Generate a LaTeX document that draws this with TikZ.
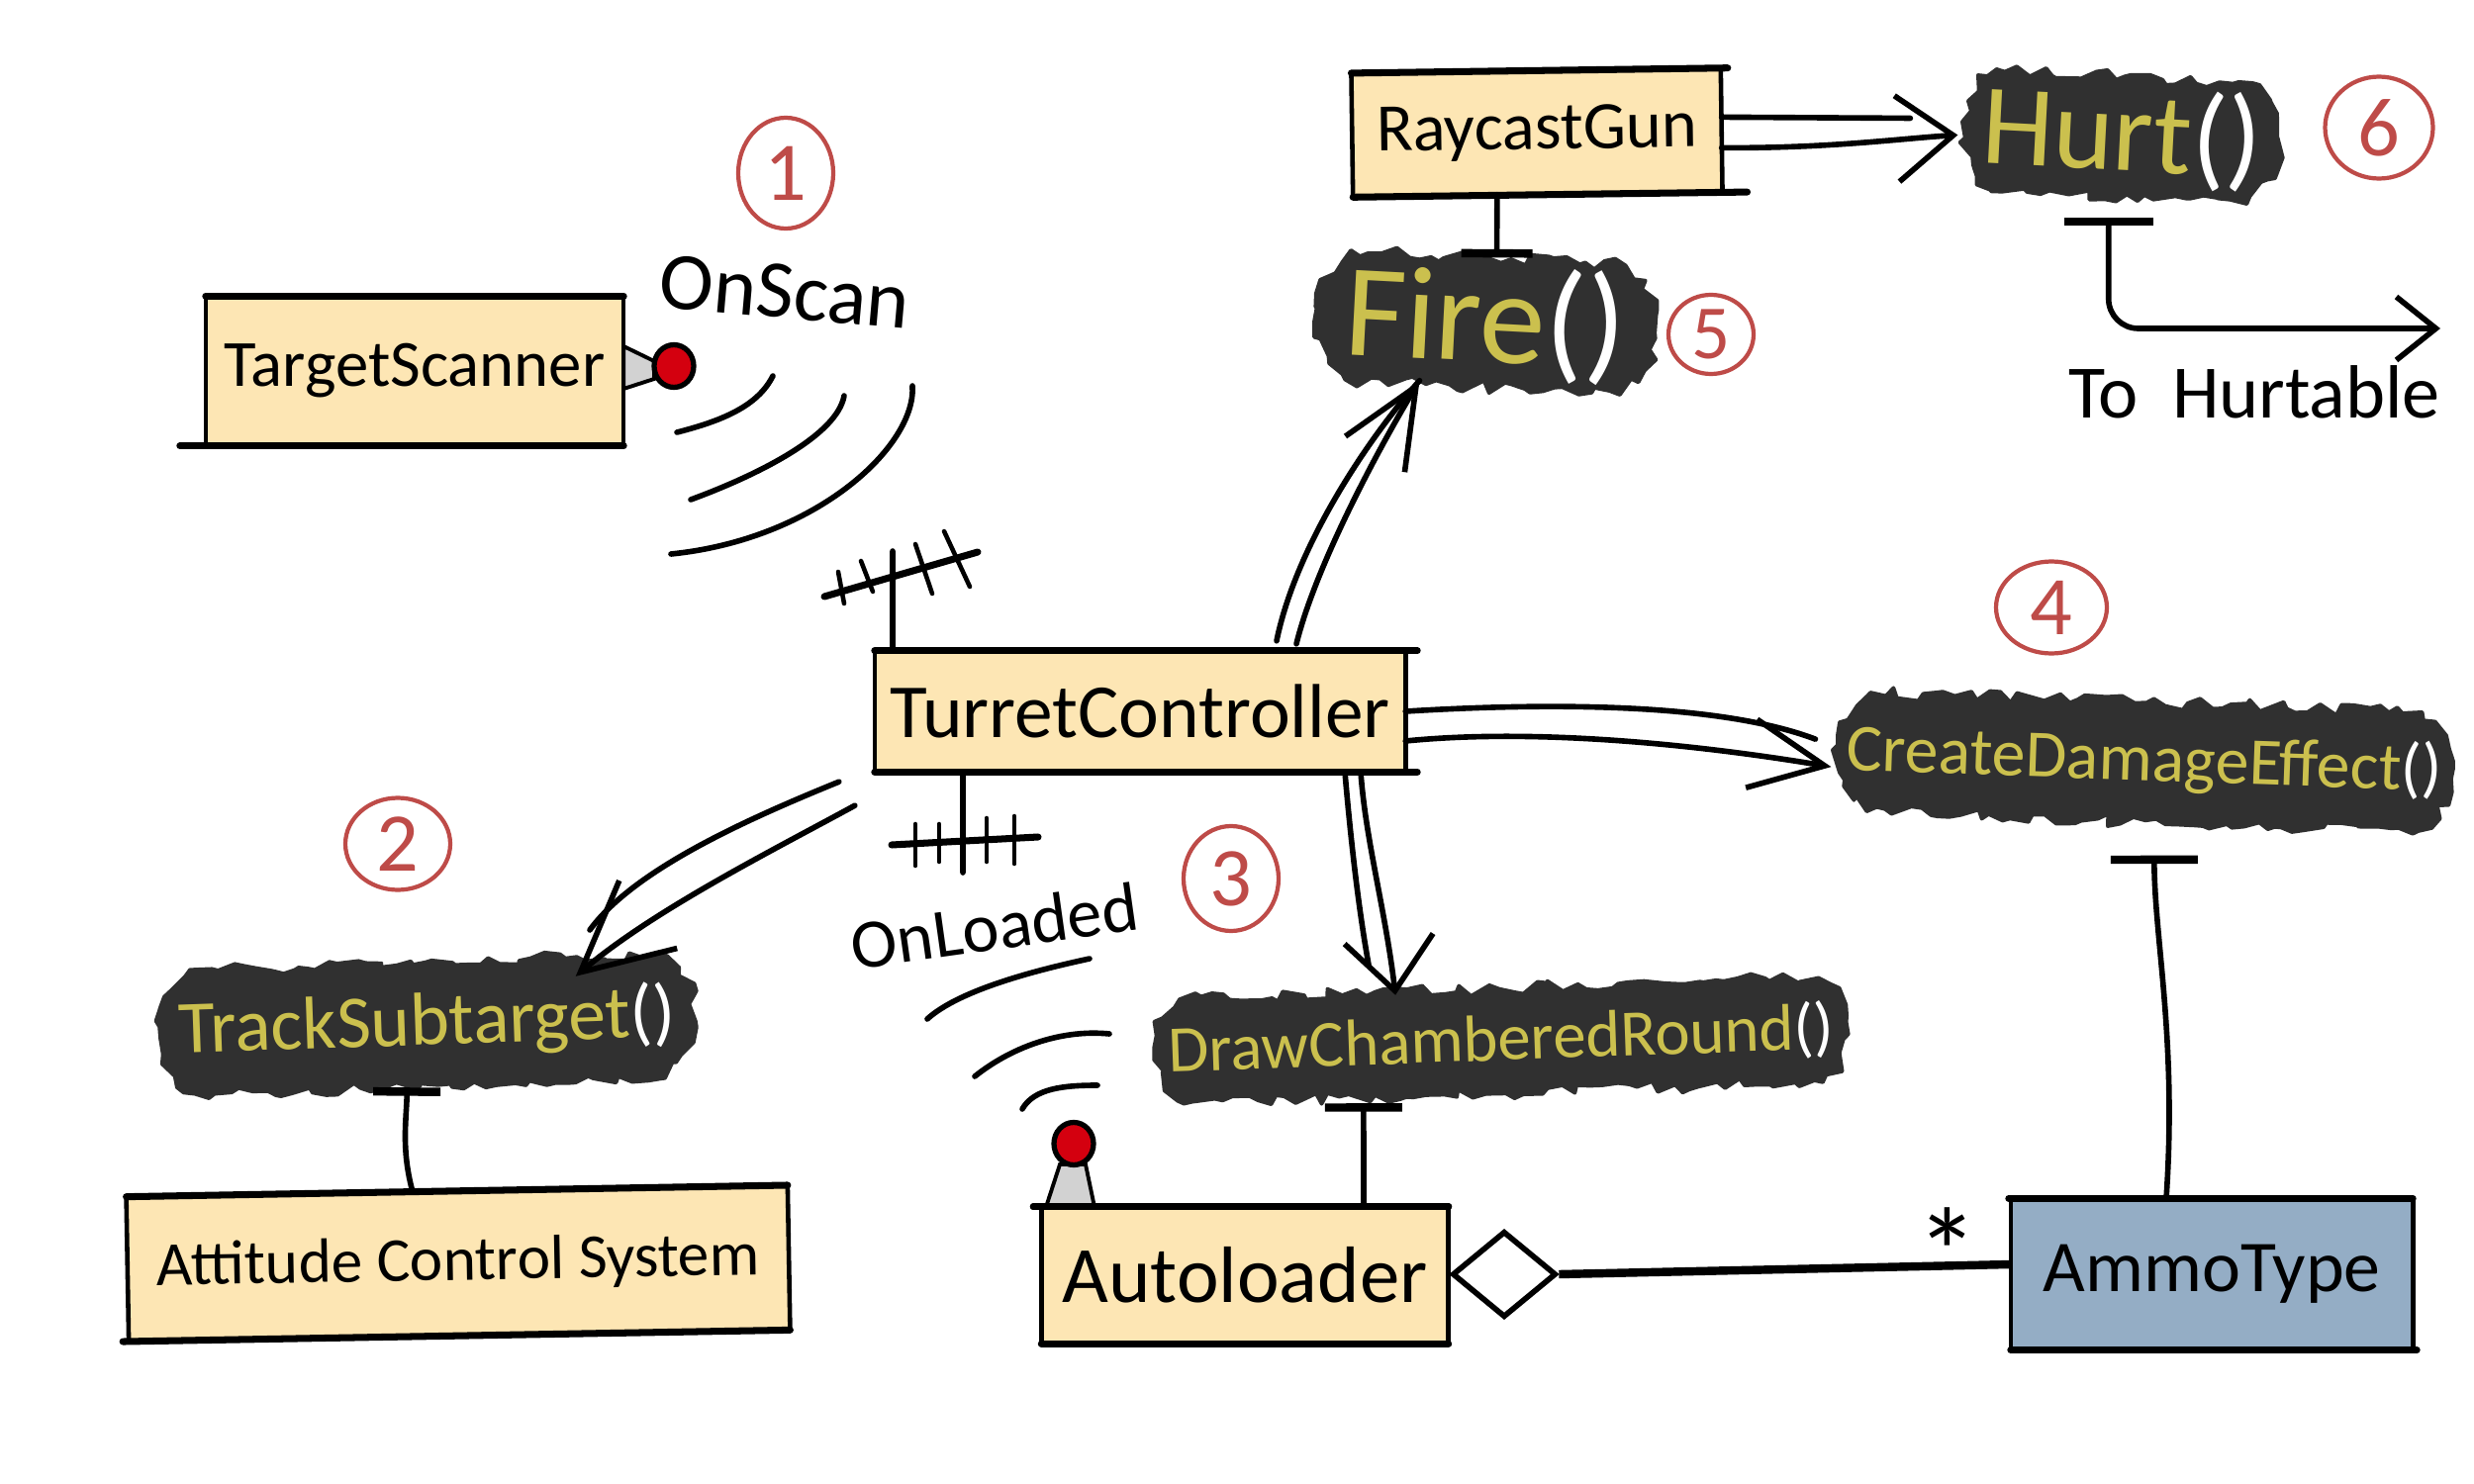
\documentclass[tikz,border=0pt]{standalone}
\usepackage{fontspec}
\setmainfont{Carlito}
\usetikzlibrary{arrows.meta,decorations.pathmorphing,shapes.geometric,shapes.misc}
\definecolor{boxcream}{RGB}{253,230,180}
\definecolor{boxblue}{RGB}{148,173,197}
\definecolor{blobdark}{RGB}{48,48,48}
\definecolor{blobtext}{RGB}{203,192,78}
\definecolor{notered}{RGB}{190,75,72}
\definecolor{knobred}{RGB}{212,0,15}
\definecolor{conegrey}{RGB}{210,210,210}
\newcommand{\hand}[1]{\fontsize{#1}{#1}\selectfont}
\newcommand{\parens}{{\color{white}()}}
\tikzset{
  classbox/.style={fill=boxcream,inner sep=0pt},
  blob/.style={rounded rectangle,rounded rectangle arc length=110,fill=blobdark,draw=blobdark,line width=1pt,line join=round,
    inner sep=0pt,text=blobtext,decorate,decoration={random steps,segment length=1.1mm,amplitude=.65mm}},
  note/.style={ellipse,draw=notered,line width=1.2pt,inner sep=0pt,text=notered},
  knob/.style={ellipse,fill=knobred,draw=black,line width=1.5pt,inner sep=0pt,minimum width=4mm,minimum height=4.3mm},
  cone/.style={fill=conegrey,draw=black,line width=1.1pt},
  wire/.style={line width=1.6pt,line cap=round},
  tee/.style={wire,-{Bar[width=#1,line width=2.4pt]}},
  head/.style 2 args={wire,-{Straight Barb[length=#1,width=#2,line width=1.6pt]}},
  edgethick/.style={line width=2pt,line cap=round},
  edgethin/.style={line width=1.3pt,line cap=round}
}
\begin{document}
\begin{tikzpicture}[x=.1mm,y=-.1mm]
\useasboundingbox (0,0) rectangle (2500,1500);
\pgfmathsetseed{42}
% classes
\node[classbox,minimum width=42.1mm,minimum height=15mm] (scanner) at (419,375) {\hand{19}\raisebox{-.7mm}{TargetScanner}};
\node[classbox,minimum width=37.2mm,minimum height=12.4mm,rotate=.8] (gun) at (1553,134) {\hand{19.5}\raisebox{-1.5mm}{RaycastGun}};
\node[classbox,minimum width=53.5mm,minimum height=12.1mm] (turret) at (1152,719) {\hand{22}TurretController};
\node[classbox,minimum width=66.7mm,minimum height=14.5mm,rotate=1] (attitude) at (463,1277) {\hand{18}\raisebox{-1mm}{Attitude Control System}};
\node[classbox,minimum width=41mm,minimum height=13.7mm] (loader) at (1258,1289) {\hand{23}Autoloader};
\node[classbox,fill=boxblue,minimum width=40.5mm,minimum height=15.2mm] (ammo) at (2235,1288) {\hand{21}\raisebox{-1mm}{AmmoType}};
% edges of the classes
\foreach \b/\tl/\tr/\bl/\br in {scanner/0/0/-2.6/0, gun/0/.7/0/2.5, turret/0/1.2/0/1.2,
  attitude/0/0/-.6/0, loader/-.8/0/0/0, ammo/-.2/0/0/.4} {
  \draw[edgethick] ([xshift=\tl mm]\b.north west) -- ([xshift=\tr mm]\b.north east);
  \draw[edgethick] ([xshift=\bl mm]\b.south west) -- ([xshift=\br mm]\b.south east);
  \draw[edgethin] (\b.north west) -- (\b.south west);
  \draw[edgethin] (\b.north east) -- (\b.south east);
}
% methods
\node[blob,minimum width=34.5mm,minimum height=13mm,rotate=-3] (fire) at (1501,326) {\hand{38}Fire\parens};
\node[blob,minimum width=32mm,minimum height=12.2mm,rotate=-3] (hurt) at (2144,138) {\hand{33}Hurt\parens};
\node[blob,minimum width=62mm,minimum height=12mm,rotate=-2] (create) at (2167,770) {\hand{19.3}CreateDamageEffect\parens};
\node[blob,minimum width=70mm,minimum height=10.5mm,rotate=2] (draw) at (1517,1052) {\hand{19}DrawChamberedRound\parens};
\node[blob,minimum width=54mm,minimum height=12.5mm,rotate=2] (track) at (432,1035) {\hand{21.5}TrackSubtarget\parens};
% numbers
\node[note,minimum width=9.6mm,minimum height=11.2mm] (one) at (794,175) {\hand{24}1};
\node[note,minimum width=10.6mm,minimum height=9.3mm] (two) at (402,853) {\hand{24}2};
\node[note,minimum width=9.6mm,minimum height=10.6mm] (three) at (1244,888) {\hand{24}3};
\node[note,minimum width=11.2mm,minimum height=9.3mm] (four) at (2073,614) {\hand{24}4};
\node[note,minimum width=8.6mm,minimum height=8mm] (five) at (1729,338) {\hand{22}5};
\node[note,minimum width=10.9mm,minimum height=10.3mm] (six) at (2404,129) {\hand{24}6};
% labels
\node[rotate=-5,inner sep=0pt] (onscan) at (793,295) {\hand{23.5}OnScan};
\node[rotate=8,inner sep=0pt] (onloaded) at (1005,936) {\hand{20}OnLoaded};
\node[inner sep=0pt] (tohurt) at (2278,396) {\hand{21.7}To\ \ Hurtable};
\node[inner sep=0pt] (star) at (1968,1266) {\hand{36}*};
% scanner knob
\filldraw[cone] (scanner.east |- 0,350) -- (661,365) -- (661,383) -- (scanner.east |- 0,393) -- cycle;
\node[knob] (scanknob) at (681,370) {};
\draw[wire] (781,380) .. controls (766,410) and (731,425) .. (684,437);
\draw[wire] (853,400) .. controls (846,440) and (766,480) .. (698,505);
\draw[wire] (922,390) .. controls (926,450) and (826,545) .. (678,560);
% loader knob
\filldraw[cone] (1057,1220) -- (1071,1177) -- (1097,1177) -- (1106,1220) -- cycle;
\node[knob] (loadknob) at (1085,1156) {};
\draw[edgethick] ([xshift=-.8mm]loader.north west) -- (loader.north east);
\draw[wire] (1033,1121) .. controls (1045,1100) and (1075,1097) .. (1109,1097);
\draw[wire] (985,1088) .. controls (1020,1060) and (1070,1040) .. (1121,1045);
\draw[wire] (937,1030) .. controls (970,1000) and (1050,980) .. (1101,969);
% antennas
\coordinate (scanpost) at (902,557);
\coordinate (loadpost) at (973,882);
\draw[wire] ([xshift=-25mm]turret.north) -- (scanpost);
\draw[edgethick] (833,603) -- (988,558);
\foreach \xa/\ya/\xb/\yb in {847/578/853/610, 870/567/882/598, 925/550/942/600, 954/537/980/593}
  \draw[edgethin] (\xa,\ya) -- (\xb,\yb);
\draw[wire] ([xshift=-17.9mm]turret.south) -- (loadpost);
\draw[edgethick] (901,854) -- (1049,846);
\foreach \xa/\ya/\xb/\yb in {925/833/925/875, 949/833/949/871, 997/827/997/871, 1025/825/1025/873}
  \draw[edgethin] (\xa,\ya) -- (\xb,\yb);
% calls
\draw[wire] ([xshift=13.8mm,yshift=1mm]turret.north) .. controls (1310,550) and (1385,440) .. ([xshift=-6.3mm,yshift=.8mm]fire.south);
\draw[head={8mm}{7mm}] ([xshift=15.8mm,yshift=.7mm]turret.north) .. controls (1330,570) and (1395,450) .. ([xshift=-6.3mm,yshift=.8mm]fire.south);
\draw[wire] (turret.east) .. controls (1600,708) and (1750,715) .. ([xshift=-2.1mm,yshift=1.2mm]create.west);
\draw[head={7.5mm}{7mm}] ([yshift=-3mm]turret.east) .. controls (1560,735) and (1730,755) .. ([xshift=-.5mm,yshift=-1.6mm]create.west);
\draw[wire] ([xshift=-3.6mm,yshift=-1mm]turret.south west) .. controls (750,830) and (640,880) .. (596,940);
\draw[head={9mm}{9mm}] ([xshift=-2mm,yshift=-3.4mm]turret.south west) .. controls (780,860) and (660,920) .. ([xshift=15.2mm,yshift=-1.6mm]track.north);
\draw[wire] ([xshift=20.7mm]turret.south) .. controls (1365,850) and (1373,920) .. (1383,975);
\draw[head={5.3mm}{9mm}] ([xshift=22.3mm]turret.south) .. controls (1380,850) and (1400,920) .. ([xshift=-10.5mm,yshift=-.8mm]draw.north);
\draw[wire] ([yshift=1.3mm]gun.east) -- ([xshift=-5.1mm,yshift=1mm]hurt.west);
\draw[head={5.7mm}{8.7mm}] ([yshift=-1.8mm]gun.east) .. controls (1850,150) and (1920,140) .. ([xshift=-.3mm,yshift=-.7mm]hurt.west);
% realizations
\draw[tee=7.2mm] ([xshift=-4.1mm]gun.south) -- ([xshift=.8mm,yshift=-.1mm]fire.north);
\draw[tee=6.8mm] ([xshift=-4.5mm]attitude.north) .. controls (405,1160) and (411,1130) .. ([xshift=-2.3mm]track.south);
\draw[tee=7.8mm] ([xshift=12mm]loader.north) -- ([xshift=-14.1mm,yshift=-.9mm]draw.south);
\draw[tee=8.8mm] ([xshift=-4.6mm]ammo.north) .. controls (2200,1050) and (2177,950) .. ([xshift=1.2mm,yshift=-3.3mm]create.south);
\coordinate (hurtend) at (2466,332);
\draw[wire,rounded corners=3mm,{Bar[width=9mm,line width=2.4pt]}-{Straight Barb[length=4mm,width=6.4mm,line width=1.6pt]}] ([xshift=-1mm,yshift=-1.9mm]hurt.south) |- (hurtend);
% aggregation
\node[diamond,draw,line width=1.6pt,fill=white,inner sep=0pt,minimum width=10.5mm,minimum height=8.7mm] (aggregate) at (1520,1288) {};
\draw[line width=2.4pt] (aggregate.east) -- ([yshift=1mm]ammo.west);
\end{tikzpicture}
\end{document}
